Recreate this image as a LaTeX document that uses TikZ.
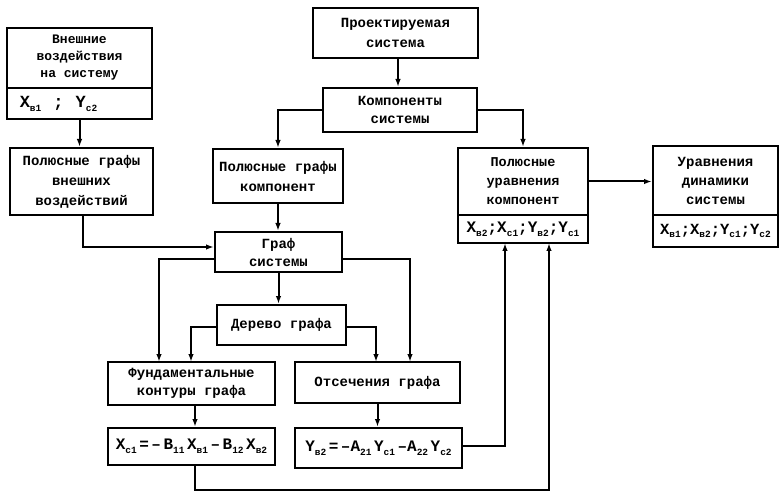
\documentclass[tikz,border=0pt]{standalone}
\usepackage{fontspec}
\setmainfont{Liberation Mono}
\usetikzlibrary{arrows.meta,calc}
\newcommand{\sbs}[1]{\raisebox{-0.45ex}{\fontsize{9.5}{9.5}\selectfont\bfseries #1}}
\newcommand{\gp}{\hspace{2.5pt}}
\begin{document}
\begin{tikzpicture}[x=1pt,y=-1pt,
  box/.style={draw, line width=2pt, rectangle, inner sep=0pt, align=center,
    font=\fontsize{14}{18}\selectfont\bfseries},
  vrow/.style={box, font=\fontsize{16}{17}\selectfont\bfseries},
  arr/.style={line width=2pt, -{Latex[length=8pt,width=5.5pt]}}]
\useasboundingbox (0,0) rectangle (781,494);
% boxes
\node[box, minimum width=145, minimum height=60, font=\fontsize{13}{17}\selectfont\bfseries] (ext) at (79.5,58) {Внешние\\воздействия\\на  систему};
\node[vrow, minimum width=145, minimum height=31, font=\fontsize{17}{17}\selectfont\bfseries] (extv) at (79.5,103.5) {X\sbs{в1}\hspace{12pt};\hspace{12pt}Y\sbs{с2}\hspace{42pt}};
\node[box, minimum width=143, minimum height=67, font=\fontsize{14}{20}\selectfont\bfseries] (pge) at (81.5,181.5) {Полюсные графы\\внешних\\воздействий};
\node[box, minimum width=165, minimum height=50, font=\fontsize{14}{20}\selectfont\bfseries] (proj) at (395.5,33) {Проектируемая\\система};
\node[box, minimum width=154, minimum height=44] (comp) at (400,110) {Компоненты\\системы};
\node[box, minimum width=130, minimum height=54, font=\fontsize{14}{20}\selectfont\bfseries] (pgc) at (278,176) {Полюсные графы\\компонент};
\node[box, minimum width=130, minimum height=67, font=\fontsize{13.5}{19}\selectfont\bfseries] (pur) at (523,181.5) {Полюсные\\уравнения\\компонент};
\node[vrow, minimum width=130, minimum height=28, font=\fontsize{16}{16}\selectfont\bfseries] (purv) at (523,229) {X\sbs{в2};X\sbs{с1};Y\sbs{в2};Y\sbs{с1}};
\node[box, minimum width=125, minimum height=69, font=\fontsize{14}{19}\selectfont\bfseries] (dyn) at (715.5,180.5) {Уравнения\\динамики\\системы};
\node[vrow, minimum width=125, minimum height=32, font=\fontsize{15.5}{16}\selectfont\bfseries] (dynv) at (715.5,231) {X\sbs{в1};X\sbs{в2};Y\sbs{с1};Y\sbs{с2}};
\node[box, minimum width=127, minimum height=40] (graf) at (278.5,252) {Граф\\системы};
\node[box, minimum width=129, minimum height=40] (tree) at (281.5,325) {Дерево графа};
\node[box, minimum width=167, minimum height=43] (fund) at (191.5,383.5) {Фундаментальные\\контуры графа};
\node[box, minimum width=165, minimum height=41] (cut) at (377.5,382.5) {Отсечения графа};
\node[vrow, minimum width=167, minimum height=37] (eq1) at (191.5,446.5) {X\sbs{с1}\gp=\gp–\gp B\sbs{11}\gp X\sbs{в1}\gp–\gp B\sbs{12}\gp X\sbs{в2}};
\node[vrow, minimum width=167, minimum height=40] (eq2) at (378.5,448) {Y\sbs{в2}\gp=\gp–A\sbs{21}\gp Y\sbs{с1}\gp–A\sbs{22}\gp Y\sbs{с2}};
% helper coordinates
\coordinate (fa) at (159,362);
\coordinate (fb) at (191,362);
\coordinate (ca) at (376,362);
\coordinate (cb) at (410,362);
\coordinate (pa) at (505,243);
\coordinate (pb) at (549,243);
\coordinate (bb) at (549,490);
\coordinate (ga) at (83,247);
% connectors
\draw[arr] (extv.south) -- (extv.south |- pge.north);
\draw[arr] (pge.south -| ga) |- ([yshift=5pt]graf.west);
\draw[arr] (proj.south -| 398,0) -- (comp.north -| 398,0);
\draw[arr] (comp.west) -| (pgc.north);
\draw[arr] (comp.east) -| (pur.north);
\draw[arr] (pur.east) -- (pur.east -| dyn.west);
\draw[arr] (pgc.south) -- (pgc.south |- graf.north);
\draw[arr] ([yshift=-7pt]graf.west) -| (fa);
\draw[arr] ([yshift=-7pt]graf.east) -| (cb);
\draw[arr] (graf.south) -- (graf.south |- tree.north);
\draw[arr] ([yshift=-2pt]tree.west) -| (fb);
\draw[arr] ([yshift=-2pt]tree.east) -| (ca);
\draw[arr] (fund.south -| 195,0) -- (eq1.north -| 195,0);
\draw[arr] (cut.south) -- (cut.south |- eq2.north);
\draw[arr] ([yshift=2pt]eq2.east) -| (pa);
\draw[arr] (eq1.south -| 195,0) |- (bb) -- (pb);
\end{tikzpicture}
\end{document}
